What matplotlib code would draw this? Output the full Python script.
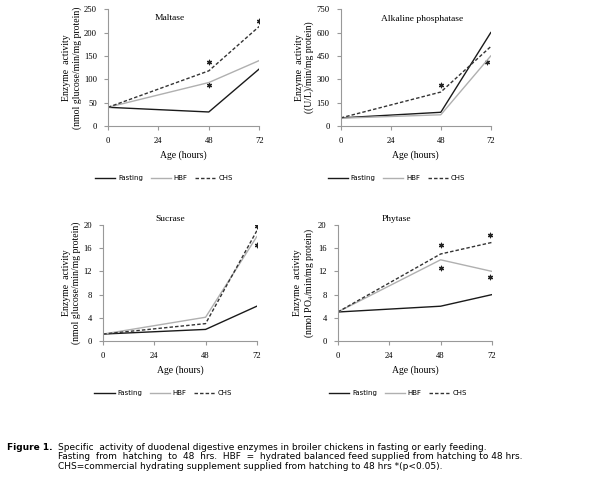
import numpy as np
import matplotlib.pyplot as plt

# Données
hours = [0, 48, 72]
labels = ['Fasting', 'HBF', 'CHS']

maltase_fasting = [40, 30, 122]
maltase_hbf = [40, 93, 140]
maltase_chs = [40, 118, 213]
maltase_stars_x = [48, 48, 72]
maltase_stars_y = [137, 87, 225]

alk_fasting = [52, 88, 600]
alk_hbf = [50, 72, 450]
alk_chs = [52, 218, 510]
alk_stars_x = [48, 70]
alk_stars_y = [262, 410]

sucrase_fasting = [1.2, 2.0, 6.0]
sucrase_hbf = [1.2, 4.1, 18.0]
sucrase_chs = [1.2, 3.0, 19.0]
sucrase_stars_x = [72, 72]
sucrase_stars_y = [19.8, 16.5]

phytase_fasting = [5, 6, 8]
phytase_hbf = [5, 14, 12]
phytase_chs = [5, 15, 17]
phytase_stars_x = [48, 48, 71, 71]
phytase_stars_y = [16.6, 12.6, 18.2, 11.1]

serif = 'Liberation Serif'
plt.rcParams['mathtext.fontset'] = 'stix'
styles = [dict(color='#1a1a1a', lw=1.0, ls='-'),
          dict(color='#b0b0b0', lw=1.0, ls='-'),
          dict(color='#333333', lw=1.0, ls=(0, (2.5, 1.5)))]

fig = plt.figure(figsize=(6, 4.82), dpi=100)

# rect, titre, séries, étoiles, ymax, pas, ylabel, position du titre, centre légende
panels = [
    ([0.180, 0.7386, 0.252, 0.2424], 'Maltase', (maltase_fasting, maltase_hbf, maltase_chs),
     (maltase_stars_x, maltase_stars_y), 250, 50,
     'Enzyme  activity\n(nmol glucose/min/mg protein)', (0.41, 0.923), 0.37),
    ([0.568, 0.7386, 0.250, 0.2424], 'Alkaline phosphatase', (alk_fasting, alk_hbf, alk_chs),
     (alk_stars_x, alk_stars_y), 750, 150,
     'Enzyme  activity\n((U/L)/min/mg protein)', (0.54, 0.915), 0.37),
    ([0.172, 0.2925, 0.256, 0.2407], 'Sucrase', (sucrase_fasting, sucrase_hbf, sucrase_chs),
     (sucrase_stars_x, sucrase_stars_y), 20, 4,
     'Enzyme  activity\n(nmol glucose/min/mg protein)', (0.435, 1.05), 0.39),
    ([0.563, 0.2925, 0.257, 0.2407], 'Phytase', (phytase_fasting, phytase_hbf, phytase_chs),
     (phytase_stars_x, phytase_stars_y), 20, 4,
     'Enzyme  activity\n(nmol PO$_4$/min/mg protein)', (0.38, 1.05), 0.39),
]

for rect, title, series, stars, ymax, ystep, ylabel, tpos, lx in panels:
    ax = fig.add_axes(rect)
    for vals, lab, st in zip(series, labels, styles):
        ax.plot(hours, vals, label=lab, **st)
    ax.scatter(stars[0], stars[1], marker=(6, 2, 0), s=10, color='#222222', lw=0.9)
    ax.set_xlim(0, 72)
    ax.set_ylim(0, ymax)
    ax.set_xticks([0, 24, 48, 72])
    ax.set_yticks(np.arange(0, ymax + 1, ystep))
    for sp in ['top', 'right']:
        ax.spines[sp].set_visible(False)
    for sp in ['left', 'bottom']:
        ax.spines[sp].set_color('#999999')
        ax.spines[sp].set_linewidth(0.8)
    ax.tick_params(length=3, width=0.8, color='#999999', labelsize=6.2, pad=5)
    for t in ax.get_xticklabels() + ax.get_yticklabels():
        t.set_fontfamily(serif)
    ax.set_xlabel('Age (hours)', fontsize=7, family=serif, labelpad=4)
    ax.set_ylabel(ylabel, fontsize=7, family=serif, labelpad=1.5, linespacing=1.1)
    ax.text(tpos[0], tpos[1], title, transform=ax.transAxes, ha='center', va='center',
            fontsize=6.8, family=serif)
    ax.legend(loc='upper center', bbox_to_anchor=(lx, -0.37), ncol=3, frameon=False,
              fontsize=5, handlelength=2.9, columnspacing=1.1, handletextpad=0.4)

fig.text(0.012, 0.071, 'Figure 1.', fontsize=6.5, weight='bold', va='center')
fig.text(0.097, 0.071, 'Specific  activity of duodenal digestive enzymes in broiler chickens in fasting or early feeding.',
         fontsize=6.5, va='center')
fig.text(0.097, 0.052, 'Fasting  from  hatching  to  48  hrs.  HBF  =  hydrated balanced feed supplied from hatching to 48 hrs.',
         fontsize=6.5, va='center')
fig.text(0.097, 0.033, 'CHS=commercial hydrating supplement supplied from hatching to 48 hrs *(p<0.05).',
         fontsize=6.5, va='center')

fig.savefig('out.png', dpi=100, facecolor='white')
